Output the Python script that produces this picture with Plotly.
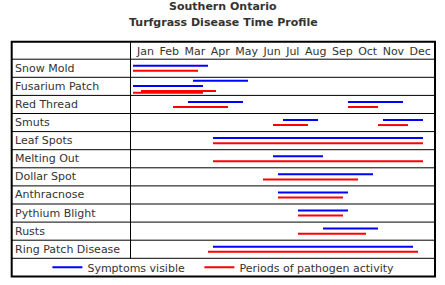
import plotly.graph_objects as go

# ---------------- data ----------------
TITLE_1 = "Southern Ontario"
TITLE_2 = "Turfgrass Disease Time Profile"
MONTHS = ["Jan", "Feb", "Mar", "Apr", "May", "Jun", "Jul", "Aug", "Sep", "Oct", "Nov", "Dec"]
DISEASES = ["Snow Mold", "Fusarium Patch", "Red Thread", "Smuts", "Leaf Spots",
            "Melting Out", "Dollar Spot", "Anthracnose", "Pythium Blight", "Rusts",
            "Ring Patch Disease"]
# values are in months from the start of January; each disease has one or more
# lanes, each lane a list of (start, end) periods
SYMPTOMS = [
    [[(0.0, 3.0)]],
    [[(2.4, 4.6)], [(0.0, 2.8)]],
    [[(2.2, 4.4), (8.6, 10.8)]],
    [[(6.0, 7.4), (10.0, 11.6)]],
    [[(3.2, 11.6)]],
    [[(5.6, 7.6)]],
    [[(5.8, 9.6)]],
    [[(5.8, 8.6)]],
    [[(6.6, 8.6)]],
    [[(7.6, 9.8)]],
    [[(3.2, 11.2)]],
]
ACTIVITY = [
    [[(0.0, 2.6)]],
    [[(0.32, 3.32)], [(0.0, 2.8)]],
    [[(1.6, 3.8), (8.6, 9.8)]],
    [[(5.6, 7.0), (9.8, 11.0)]],
    [[(3.2, 11.6)]],
    [[(3.2, 11.6)]],
    [[(5.2, 9.0)]],
    [[(5.8, 8.4)]],
    [[(6.6, 8.4)]],
    [[(6.6, 9.32)]],
    [[(3.0, 11.4)]],
]
SERIES_NAMES = ["Symptoms visible", "Periods of pathogen activity"]

# ---------------- style / layout ----------------
W, H = 445, 285
BLUE, RED = "#0000FF", "#FF0000"
TEXT = "#333333"
FONT = "DejaVu Sans"
PX_X0, PX_PER_MONTH = 133.0, 25.0      # pixel of Jan 1 and width of one month
PX_Y0, PX_PER_ROW = 59.2, 18.1         # pixel of first row top and row height
TABLE_L, TABLE_R, DIVIDER, TABLE_T = 11.7, 435.0, 130.5, 41.7
LANE_OFFSETS = {2: [0.36, 0.64], 4: [0.19, 0.48, 0.76, 0.85]}
EN_SPACE = "\u2002"

n_rows = len(DISEASES)
x_range = [-PX_X0 / PX_PER_MONTH, (W - PX_X0) / PX_PER_MONTH]
y_range = [(H - PX_Y0) / PX_PER_ROW, -PX_Y0 / PX_PER_ROW]


def px_x(p):
    return p / W


def px_y(p):
    return 1 - p / H


def build(series_idx):
    xs, ys = [], []
    for i in range(n_rows):
        lanes_s, lanes_a = SYMPTOMS[i], ACTIVITY[i]
        offs = LANE_OFFSETS[len(lanes_s) + len(lanes_a)]
        lanes = lanes_s if series_idx == 0 else lanes_a
        base = 0 if series_idx == 0 else len(lanes_s)
        for k, lane in enumerate(lanes):
            yv = i + offs[base + k]
            for (a, b) in lane:
                xs += [a, b, None]
                ys += [yv, yv, None]
    return xs, ys


fig = go.Figure()
for idx, color in enumerate([BLUE, RED]):
    xs, ys = build(idx)
    extra = dict(legendwidth=107) if idx == 0 else {}
    fig.add_trace(go.Scatter(x=xs, y=ys, mode="lines", name=SERIES_NAMES[idx],
                             line=dict(color=color, width=2), hoverinfo="skip", **extra))

top_y = y_range[1] + TABLE_T / PX_PER_ROW
shapes = []
line_thin = dict(color="black", width=1)
# horizontal row separators (header bottom ... above legend row)
for r in range(n_rows + 1):
    shapes.append(dict(type="line", xref="paper", yref="y", x0=px_x(TABLE_L), x1=px_x(TABLE_R),
                       y0=r, y1=r, line=line_thin))
# vertical divider between label column and chart
shapes.append(dict(type="line", xref="paper", yref="y", x0=px_x(DIVIDER), x1=px_x(DIVIDER),
                   y0=top_y, y1=n_rows, line=line_thin))
# outer border
shapes.append(dict(type="rect", xref="paper", yref="y", x0=px_x(TABLE_L), x1=px_x(TABLE_R),
                   y0=top_y, y1=n_rows + 1, line=dict(color="black", width=2)))

annotations = []
for text, py in [(TITLE_1, 7), (TITLE_2, 22.5)]:
    annotations.append(dict(text="<b>%s</b>" % text, xref="paper", yref="paper", x=px_x(223.3),
                            y=px_y(py), xanchor="center", yanchor="middle", showarrow=False,
                            font=dict(family=FONT, size=11, color=TEXT)))
annotations.append(dict(text=EN_SPACE.join(MONTHS), xref="paper", yref="y", x=px_x(283.5),
                        y=-0.45, xanchor="center", yanchor="middle", showarrow=False,
                        font=dict(family=FONT, size=11, color=TEXT)))
for i, name in enumerate(DISEASES):
    annotations.append(dict(text=name, xref="paper", yref="y", x=px_x(13), y=i + 0.5,
                            xanchor="left", yanchor="middle", showarrow=False,
                            font=dict(family=FONT, size=11, color=TEXT)))

fig.update_layout(
    width=W, height=H, margin=dict(l=0, r=0, t=0, b=0, pad=0),
    paper_bgcolor="white", plot_bgcolor="white",
    xaxis=dict(range=x_range, visible=False, fixedrange=True),
    yaxis=dict(range=y_range, visible=False, fixedrange=True),
    shapes=shapes, annotations=annotations,
    showlegend=True,
    legend=dict(orientation="h", x=px_x(223.4), y=px_y(PX_Y0 + (n_rows + 0.5) * PX_PER_ROW),
                xref="paper", yref="paper", xanchor="center", yanchor="middle",
                bgcolor="rgba(0,0,0,0)", font=dict(family=FONT, size=11, color=TEXT),
                itemclick=False, itemdoubleclick=False),
)
fig.write_html("out.html")
